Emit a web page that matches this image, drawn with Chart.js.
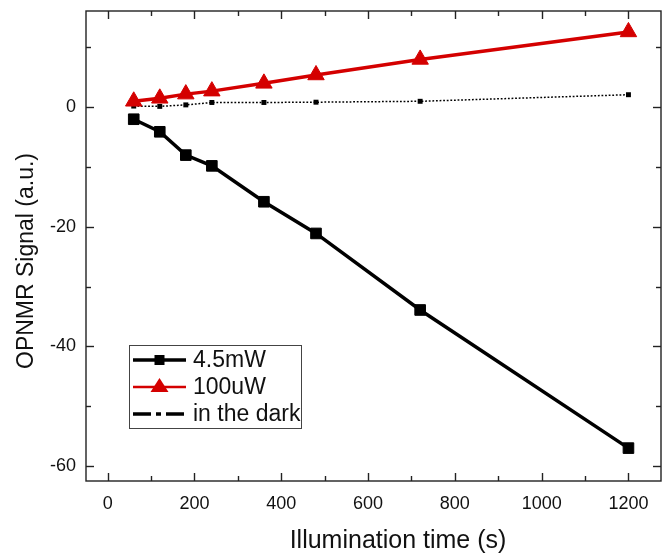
<!DOCTYPE html>
<html>
<head>
<meta charset="utf-8">
<script src="https://cdn.jsdelivr.net/npm/chart.js@4/dist/chart.umd.min.js"></script>
<style>
  html, body { margin: 0; padding: 0; background: #fff; }
  #wrap { width: 663px; height: 555px; }
</style>
</head>
<body>
<div id="wrap"><canvas id="c" width="663" height="555"></canvas></div>
<script>
// --- data ---
const times = [60, 120, 180, 240, 360, 480, 720, 1200];
const signal45mW = [-2.0, -4.1, -8.0, -9.8, -15.8, -21.1, -33.9, -57.0];
const signal100uW = [1.0, 1.5, 2.2, 2.7, 4.0, 5.4, 8.0, 12.6];
const signalDark = [0.2, 0.15, 0.4, 0.8, 0.8, 0.85, 1.0, 2.1];
const seriesLabels = ['4.5mW', '100uW', 'in the dark'];

const xTicks = [0, 200, 400, 600, 800, 1000, 1200];
const xMinorTicks = [100, 300, 500, 700, 900, 1100];
const yTicks = [-60, -40, -20, 0];
const yMinorTicks = [-50, -30, -10, 10];

const xTitle = 'Illumination time (s)';
const yTitle = 'OPNMR Signal (a.u.)';

const FONT = "'Liberation Sans', Arial, sans-serif";
const RED = '#d40000';

const pts = (ys) => times.map((t, i) => ({ x: t, y: ys[i] }));

// frame box + inward ticks on all four sides (Origin style)
const framePlugin = {
    id: 'frame',
    afterDatasetsDraw(chart) {
        const ctx = chart.ctx;
        const { left, right, top, bottom } = chart.chartArea;
        const xs = chart.scales.x, ys = chart.scales.y;
        ctx.save();
        ctx.strokeStyle = '#222';
        ctx.lineWidth = 1.4;
        ctx.strokeRect(left, top, right - left, bottom - top);

        const seg = (x1, y1, x2, y2) => { ctx.beginPath(); ctx.moveTo(x1, y1); ctx.lineTo(x2, y2); ctx.stroke(); };
        const xMark = (v, len) => {
            const px = Math.round(xs.getPixelForValue(v)) + 0.5;
            seg(px, bottom, px, bottom - len);
            seg(px, top, px, top + len);
        };
        const yMark = (v, len) => {
            const py = Math.round(ys.getPixelForValue(v)) + 0.5;
            seg(left, py, left + len, py);
            seg(right, py, right - len, py);
        };
        xTicks.forEach(v => xMark(v, 8));
        xMinorTicks.forEach(v => xMark(v, 5));
        yTicks.forEach(v => yMark(v, 8));
        yMinorTicks.forEach(v => yMark(v, 5));
        ctx.restore();
    },
    afterDraw(chart) {
        const ctx = chart.ctx;
        ctx.save();
        ctx.fillStyle = '#111';

        // axis titles
        ctx.font = '25px ' + FONT;
        ctx.textAlign = 'center';
        ctx.textBaseline = 'alphabetic';
        ctx.fillText(xTitle, 398, 548);

        ctx.translate(33, 261);
        ctx.rotate(-Math.PI / 2);
        ctx.font = '23px ' + FONT;
        ctx.fillText(yTitle, 0, 0);
        ctx.restore();

        // legend box
        ctx.save();
        const bx = 129, by = 345, bw = 172, bh = 83;
        ctx.strokeStyle = '#444';
        ctx.lineWidth = 1;
        ctx.strokeRect(bx + 0.5, by + 0.5, bw, bh);
        const rows = [360, 387, 414];
        const x1 = 133, x2 = 186, xm = (x1 + x2) / 2;
        ctx.font = '23px ' + FONT;
        ctx.textAlign = 'left';
        ctx.textBaseline = 'middle';
        chart.data.datasets.forEach((ds, i) => {
            const y = rows[i];
            ctx.beginPath();
            ctx.strokeStyle = ds.borderColor;
            if (i === 2) {
                ctx.lineWidth = 3.5;
                ctx.setLineDash([18, 5, 5, 5]);
            } else {
                ctx.lineWidth = i === 0 ? 3.5 : 2.5;
                ctx.setLineDash([]);
            }
            ctx.moveTo(x1, y);
            ctx.lineTo(x2, y);
            ctx.stroke();
            ctx.setLineDash([]);
            ctx.fillStyle = ds.pointBackgroundColor;
            if (i === 0) {
                ctx.fillRect(xm - 5, y - 5, 10, 10);
            } else if (i === 1) {
                ctx.beginPath();
                ctx.moveTo(xm, y - 9);
                ctx.lineTo(xm + 9, y + 5);
                ctx.lineTo(xm - 9, y + 5);
                ctx.closePath();
                ctx.fill();
            }
            ctx.fillStyle = '#111';
            ctx.fillText(ds.label, 193, y + 1);
        });
        ctx.restore();
    }
};

const noPad = (s) => { s.paddingTop = 0; s.paddingBottom = 0; s.paddingLeft = 0; s.paddingRight = 0; };

new Chart(document.getElementById('c'), {
    type: 'scatter',
    data: {
        datasets: [
            {
                label: seriesLabels[0],
                data: pts(signal45mW),
                showLine: true,
                borderColor: '#000',
                borderWidth: 3.5,
                pointStyle: 'rect',
                pointRadius: 7.5,
                pointBackgroundColor: '#000',
                pointBorderColor: '#000',
                pointBorderWidth: 1
            },
            {
                label: seriesLabels[1],
                data: pts(signal100uW),
                showLine: true,
                borderColor: RED,
                borderWidth: 3.5,
                pointStyle: 'triangle',
                pointRadius: 9.5,
                pointBackgroundColor: RED,
                pointBorderColor: RED,
                pointBorderWidth: 1
            },
            {
                label: seriesLabels[2],
                data: pts(signalDark),
                showLine: true,
                borderColor: '#000',
                borderWidth: 1.5,
                borderDash: [1.8, 1.8],
                pointStyle: 'rect',
                pointRadius: 3.5,
                pointBackgroundColor: '#000',
                pointBorderColor: '#000',
                pointBorderWidth: 0
            }
        ]
    },
    options: {
        responsive: false,
        animation: false,
        devicePixelRatio: 1,
        layout: { autoPadding: false, padding: { top: 11, right: 2, left: 0, bottom: 0 } },
        plugins: { legend: { display: false }, tooltip: { enabled: false } },
        scales: {
            x: {
                type: 'linear',
                min: -50,
                max: 1275,
                grid: { display: false, drawTicks: false },
                border: { display: false },
                ticks: { color: '#111', padding: 12, font: { family: FONT, size: 18 }, callback: (v) => String(v) },
                afterBuildTicks: (s) => { s.ticks = xTicks.map(v => ({ value: v })); },
                afterFit: (s) => { s.height = 74; noPad(s); }
            },
            y: {
                type: 'linear',
                min: -62.5,
                max: 16.1,
                grid: { display: false, drawTicks: false },
                border: { display: false },
                ticks: { color: '#111', padding: 10, font: { family: FONT, size: 18 }, callback: (v) => String(v) },
                afterBuildTicks: (s) => { s.ticks = yTicks.map(v => ({ value: v })); },
                afterFit: (s) => { s.width = 86; noPad(s); }
            }
        }
    },
    plugins: [framePlugin]
});
</script>
</body>
</html>
